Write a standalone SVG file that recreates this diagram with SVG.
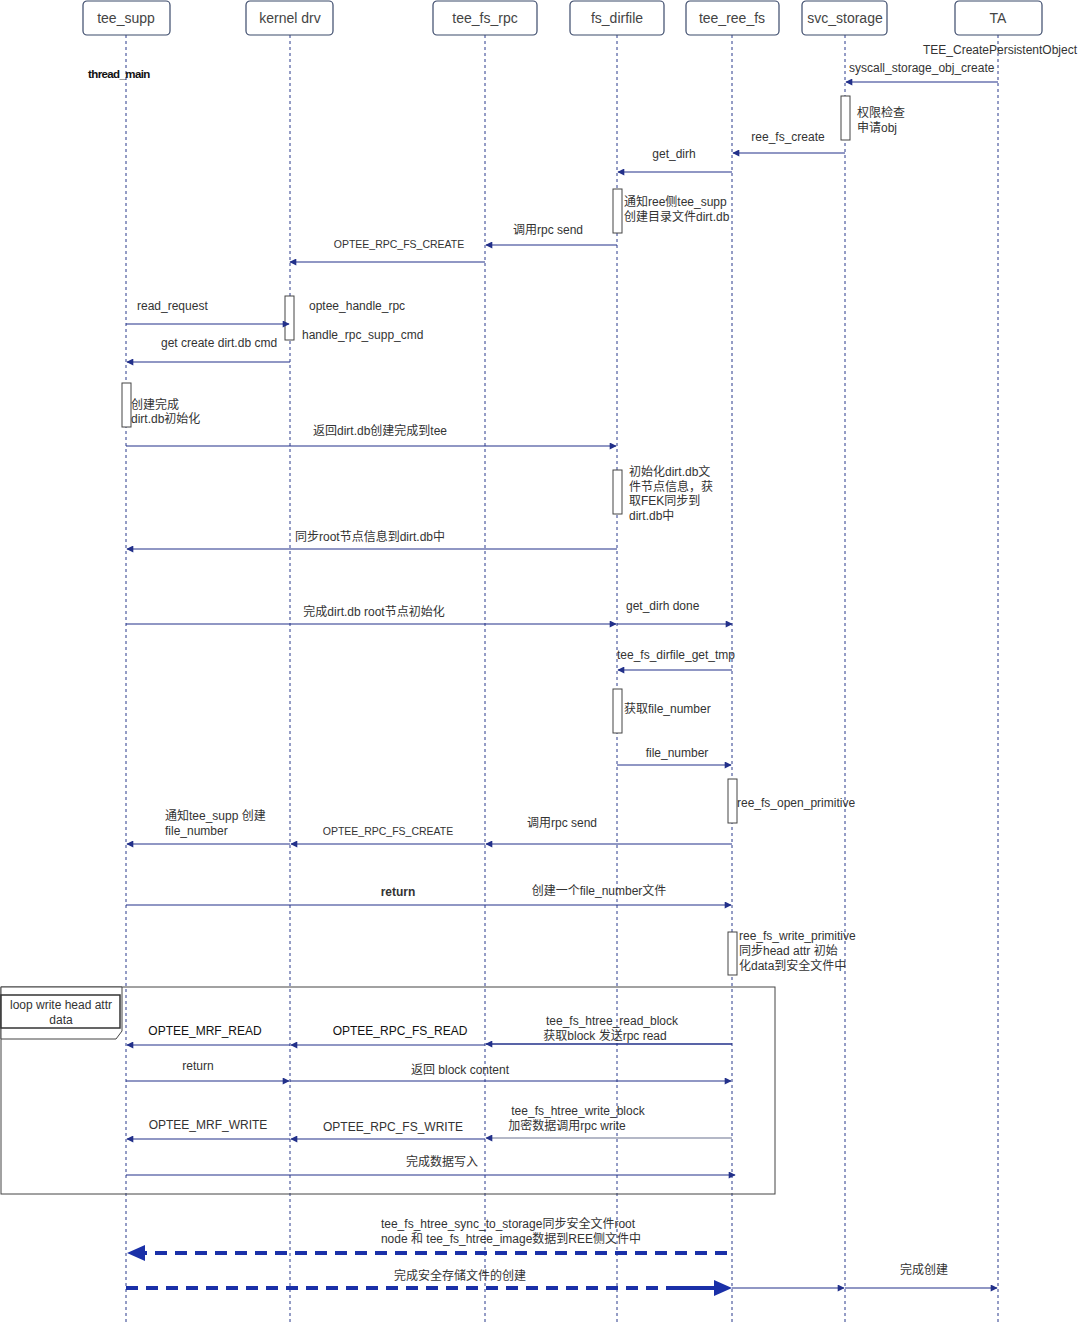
<svg xmlns="http://www.w3.org/2000/svg" width="1080" height="1324" viewBox="0 0 1080 1324">
<defs>
<style>
.hd{fill:#fff;stroke:#3b4a6b;stroke-width:1.2}
.ht{font-family:"Liberation Sans","Noto Sans CJK SC",sans-serif;font-size:14px;fill:#444;text-anchor:middle}
.ll{stroke:#2a3a8c;stroke-width:1;stroke-dasharray:3 3;fill:none}
.m{stroke:#22308a;stroke-width:1.1;fill:none;marker-end:url(#ah)}
.t{font-family:"Liberation Sans","Noto Sans CJK SC",sans-serif;font-size:12px;fill:#333}
.tc{text-anchor:middle}
.s{font-size:10.5px}
.act{fill:#fff;stroke:#444;stroke-width:1}
.big{stroke:#1a30a8;stroke-width:4;stroke-dasharray:12 8;fill:none}
</style>
<marker id="ah" viewBox="0 0 10 10" refX="9" refY="5" markerWidth="8" markerHeight="7" markerUnits="userSpaceOnUse" orient="auto">
<path d="M0,0 L10,5 L0,10 Z" fill="#22308a"/>
</marker>
</defs>
<rect width="1080" height="1324" fill="#fff"/>
<g id="lifelines">
<line class="ll" x1="126" y1="35" x2="126" y2="1324"/>
<line class="ll" x1="290" y1="35" x2="290" y2="1324"/>
<line class="ll" x1="485" y1="35" x2="485" y2="1324"/>
<line class="ll" x1="617" y1="35" x2="617" y2="1324"/>
<line class="ll" x1="732" y1="35" x2="732" y2="1324"/>
<line class="ll" x1="845" y1="35" x2="845" y2="1324"/>
<line class="ll" x1="998" y1="35" x2="998" y2="1324"/>
</g>
<g id="n-tee_supp"><rect class="hd" x="83" y="1" width="87" height="34" rx="4"/><text class="ht" x="126" y="23">tee_supp</text></g>
<g id="n-kernel_drv"><rect class="hd" x="246" y="1" width="87" height="34" rx="4"/><text class="ht" x="290" y="23">kernel drv</text></g>
<g id="n-tee_fs_rpc"><rect class="hd" x="433" y="1" width="104" height="34" rx="4"/><text class="ht" x="485" y="23">tee_fs_rpc</text></g>
<g id="n-fs_dirfile"><rect class="hd" x="570" y="1" width="94" height="34" rx="4"/><text class="ht" x="617" y="23">fs_dirfile</text></g>
<g id="n-tee_ree_fs"><rect class="hd" x="686" y="1" width="93" height="34" rx="4"/><text class="ht" x="732" y="23">tee_ree_fs</text></g>
<g id="n-svc_storage"><rect class="hd" x="802" y="1" width="85" height="34" rx="4"/><text class="ht" x="845" y="23">svc_storage</text></g>
<g id="n-TA"><rect class="hd" x="955" y="1" width="87" height="34" rx="4"/><text class="ht" x="998" y="23">TA</text></g>

<g id="loop">
<rect x="1" y="987" width="774" height="207" fill="none" stroke="#444" stroke-width="1"/>
<path d="M1,987 H122 V1031 L116,1039 H1 Z" fill="#fff" stroke="#444" stroke-width="1"/>
<rect x="1" y="995" width="119" height="33" fill="#fff" stroke="#333" stroke-width="1.5"/>
<text class="t tc" x="61" y="1009">loop  write head attr</text>
<text class="t tc" x="61" y="1024">data</text>
</g>

<g id="activations">
<rect class="act" x="841" y="96" width="9" height="44"/>
<rect class="act" x="613" y="189" width="9" height="44"/>
<rect class="act" x="285" y="296" width="9" height="44"/>
<rect class="act" x="122" y="383" width="9" height="44"/>
<rect class="act" x="613" y="470" width="9" height="44"/>
<rect class="act" x="613" y="689" width="9" height="44"/>
<rect class="act" x="728" y="779" width="9" height="44"/>
<rect class="act" x="728" y="932" width="9" height="43"/>
</g>

<g id="connectors">
<line class="m" x1="998" y1="82" x2="846" y2="82"/>
<line class="m" x1="845" y1="153" x2="733" y2="153"/>
<line class="m" x1="732" y1="172" x2="618" y2="172"/>
<line class="m" x1="617" y1="245" x2="486" y2="245"/>
<line class="m" x1="485" y1="262" x2="290" y2="262"/>
<line class="m" x1="126" y1="324" x2="289" y2="324"/>
<line class="m" x1="290" y1="362" x2="127" y2="362"/>
<line class="m" x1="126" y1="446" x2="616" y2="446"/>
<line class="m" x1="617" y1="549" x2="127" y2="549"/>
<line class="m" x1="126" y1="624" x2="616" y2="624"/>
<line class="m" x1="617" y1="624" x2="732" y2="624"/>
<line class="m" x1="732" y1="670" x2="618" y2="670"/>
<line class="m" x1="617" y1="765" x2="731" y2="765"/>
<line class="m" x1="732" y1="844" x2="486" y2="844"/>
<line class="m" x1="485" y1="844" x2="291" y2="844"/>
<line class="m" x1="290" y1="844" x2="127" y2="844"/>
<line class="m" x1="126" y1="905" x2="731" y2="905"/>
<line class="m" x1="290" y1="1045" x2="127" y2="1045"/>
<line class="m" x1="485" y1="1045" x2="291" y2="1045"/>
<line class="m" x1="732" y1="1044" x2="486" y2="1044" style="stroke-width:1.6"/>
<line class="m" x1="126" y1="1081" x2="289" y2="1081"/>
<line class="m" x1="290" y1="1081" x2="731" y2="1081"/>
<line class="m" x1="290" y1="1139" x2="127" y2="1139"/>
<line class="m" x1="485" y1="1139" x2="291" y2="1139"/>
<line class="m" x1="732" y1="1138" x2="486" y2="1138" style="stroke:#6a7390"/>
<line class="m" x1="126" y1="1175" x2="735" y2="1175"/>
<line class="big" x1="727" y1="1253" x2="142" y2="1253"/>
<polygon points="127,1253 145,1245 145,1261" fill="#1a30a8"/>
<line class="big" x1="126" y1="1288" x2="672" y2="1288"/>
<line x1="672" y1="1288" x2="716" y2="1288" stroke="#1a30a8" stroke-width="4"/>
<polygon points="732,1288 714,1280 714,1296" fill="#1a30a8"/>
<line class="m" x1="732" y1="1288" x2="844" y2="1288"/>
<line class="m" x1="845" y1="1288" x2="997" y2="1288"/>
</g>

<g id="labels">
<text class="t tc" x="1000" y="54">TEE_CreatePersistentObject</text>
<text class="t" x="849" y="72">syscall_storage_obj_create</text>
<text class="t" x="88" y="78" style="font-weight:bold;font-size:11.5px;letter-spacing:-0.6px;fill:#111">thread_main</text>
<text class="t" x="857" y="117">权限检查</text>
<text class="t" x="857" y="132">申请obj</text>
<text class="t tc" x="788" y="141">ree_fs_create</text>
<text class="t tc" x="674" y="158">get_dirh</text>
<text class="t" x="624" y="206">通知ree侧tee_supp</text>
<text class="t" x="624" y="221">创建目录文件dirt.db</text>
<text class="t tc" x="548" y="234">调用rpc send</text>
<text class="t tc s" x="399" y="248">OPTEE_RPC_FS_CREATE</text>
<text class="t" x="137" y="310">read_request</text>
<text class="t" x="309" y="310">optee_handle_rpc</text>
<text class="t" x="302" y="339">handle_rpc_supp_cmd</text>
<text class="t" x="161" y="347">get create dirt.db cmd</text>
<text class="t" x="131" y="409">创建完成</text>
<text class="t" x="131" y="423">dirt.db初始化</text>
<text class="t tc" x="380" y="435">返回dirt.db创建完成到tee</text>
<text class="t" x="629" y="476">初始化dirt.db文</text>
<text class="t" x="629" y="491">件节点信息，获</text>
<text class="t" x="629" y="505">取FEK同步到</text>
<text class="t" x="629" y="520">dirt.db中</text>
<text class="t tc" x="370" y="541">同步root节点信息到dirt.db中</text>
<text class="t tc" x="374" y="616">完成dirt.db root节点初始化</text>
<text class="t" x="626" y="610">get_dirh done</text>
<text class="t tc" x="676" y="659">tee_fs_dirfile_get_tmp</text>
<text class="t" x="624" y="713">获取file_number</text>
<text class="t tc" x="677" y="757">file_number</text>
<text class="t" x="737" y="807">ree_fs_open_primitive</text>
<text class="t tc" x="562" y="827">调用rpc send</text>
<text class="t tc s" x="388" y="835">OPTEE_RPC_FS_CREATE</text>
<text class="t" x="165" y="820">通知tee_supp 创建</text>
<text class="t" x="165" y="835">file_number</text>
<text class="t tc" x="398" y="896" style="font-weight:bold">return</text>
<text class="t tc" x="599" y="895">创建一个file_number文件</text>
<text class="t" x="739" y="940">ree_fs_write_primitive</text>
<text class="t" x="739" y="955">同步head attr 初始</text>
<text class="t" x="739" y="970">化data到安全文件中</text>
<text class="t tc" x="205" y="1035" style="fill:#111">OPTEE_MRF_READ</text>
<text class="t tc" x="400" y="1035" style="fill:#111">OPTEE_RPC_FS_READ</text>
<text class="t tc" x="612" y="1025">tee_fs_htree_read_block</text>
<text class="t tc" x="605" y="1040">获取block 发送rpc read</text>
<text class="t tc" x="198" y="1070">return</text>
<text class="t tc" x="460" y="1074">返回 block content</text>
<text class="t tc" x="208" y="1129">OPTEE_MRF_WRITE</text>
<text class="t tc" x="393" y="1131">OPTEE_RPC_FS_WRITE</text>
<text class="t tc" x="578" y="1115">tee_fs_htree_write_block</text>
<text class="t tc" x="567" y="1130">加密数据调用rpc write</text>
<text class="t tc" x="442" y="1166">完成数据写入</text>
<text class="t tc" x="508" y="1228">tee_fs_htree_sync_to_storage同步安全文件root</text>
<text class="t tc" x="511" y="1243">node 和 tee_fs_htree_image数据到REE侧文件中</text>
<text class="t tc" x="460" y="1280">完成安全存储文件的创建</text>
<text class="t tc" x="924" y="1274">完成创建</text>
</g>
</svg>
